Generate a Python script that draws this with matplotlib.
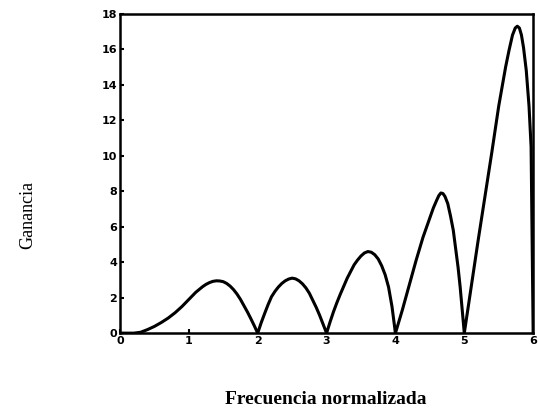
import matplotlib
matplotlib.use("Agg")
import matplotlib.pyplot as plt

# Normalized frequency (x) and gain (y)
freq = [0.0, 0.2, 0.3, 0.4, 0.5, 0.6, 0.7, 0.8, 0.9, 1.0, 1.1, 1.2, 1.25, 1.3, 1.35, 1.4, 1.45, 1.5, 1.55, 1.6,
        1.65, 1.7, 1.75, 1.8, 1.85, 1.9, 1.95,
        2.0, 2.05, 2.1, 2.15, 2.2, 2.25, 2.3, 2.35, 2.4, 2.45, 2.5, 2.55, 2.6, 2.65, 2.7, 2.75, 2.8, 2.85, 2.9, 2.95,
        3.0, 3.05, 3.1, 3.15, 3.2, 3.3, 3.4, 3.45, 3.5, 3.55, 3.6, 3.65, 3.7, 3.75, 3.8, 3.85, 3.9, 3.95,
        4.0, 4.1, 4.2, 4.3, 4.4, 4.5, 4.55, 4.6, 4.63, 4.66, 4.69, 4.72, 4.76, 4.8, 4.84, 4.87, 4.91, 4.94, 4.97,
        5.0, 5.1, 5.2, 5.3, 5.4, 5.5, 5.6, 5.65, 5.7, 5.74, 5.77, 5.8, 5.83, 5.86, 5.9, 5.94, 5.97, 6.0]
gain = [0.0, 0.0, 0.05, 0.2, 0.38, 0.6, 0.85, 1.15, 1.5, 1.9, 2.3, 2.62, 2.75, 2.85, 2.92, 2.95, 2.94, 2.9, 2.8, 2.65,
        2.45, 2.2, 1.9, 1.55, 1.2, 0.82, 0.42,
        0.0, 0.58, 1.1, 1.6, 2.05, 2.35, 2.6, 2.8, 2.95, 3.05, 3.1, 3.06, 2.95, 2.78, 2.55, 2.25, 1.85, 1.45, 1.0, 0.5,
        0.0, 0.62, 1.2, 1.72, 2.2, 3.1, 3.85, 4.12, 4.35, 4.52, 4.6, 4.56, 4.42, 4.18, 3.8, 3.3, 2.6, 1.5,
        0.0, 1.3, 2.7, 4.1, 5.4, 6.5, 7.05, 7.5, 7.75, 7.9, 7.87, 7.7, 7.3, 6.6, 5.8, 4.9, 3.7, 2.6, 1.3,
        0.0, 2.6, 5.2, 7.7, 10.2, 12.8, 15.0, 15.95, 16.8, 17.2, 17.3, 17.2, 16.8, 16.1, 14.8, 12.8, 10.5, 0.0]

x_ticks = [0, 1, 2, 3, 4, 5, 6]
y_ticks = [0, 2, 4, 6, 8, 10, 12, 14, 16, 18]

fig = plt.figure(figsize=(5.38, 4.18), dpi=100)
ax = fig.add_axes([0.223, 0.203, 0.768, 0.764])
ax.plot(freq, gain, color="black", linewidth=2.2, solid_joinstyle="round")
ax.set_xlim(0, 6)
ax.set_ylim(0, 18)
ax.set_xticks(x_ticks)
ax.set_yticks(y_ticks)
ax.tick_params(direction="in", length=3, width=1.5, labelsize=8, pad=2)
for lab in ax.get_xticklabels() + ax.get_yticklabels():
    lab.set_fontweight("bold")
for s in ax.spines.values():
    s.set_linewidth(1.8)

fig.text(0.605, 0.045, "Frecuencia normalizada", ha="center", va="center",
         fontsize=14, family="Liberation Serif", fontweight="bold")
fig.text(0.052, 0.485, "Ganancia", ha="center", va="center", rotation=90,
         fontsize=13, family="Liberation Serif")

fig.savefig("out.png", dpi=100)
